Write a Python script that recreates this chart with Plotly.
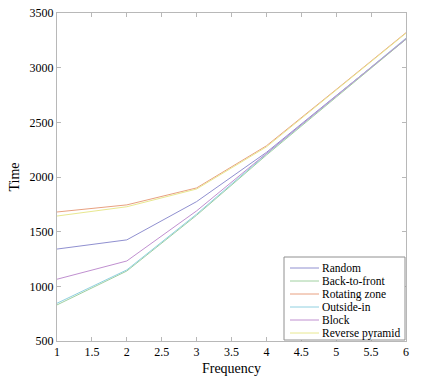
import plotly.graph_objects as go

frequency = [1, 2, 3, 4, 5, 6]
random_t = [1341, 1425, 1775, 2225, 2745, 3260]
back_to_front = [830, 1140, 1650, 2200, 2730, 3260]
rotating_zone = [1680, 1745, 1900, 2285, 2800, 3320]
outside_in = [845, 1150, 1660, 2210, 2740, 3270]
block = [1065, 1232, 1690, 2215, 2740, 3265]
reverse_pyramid = [1643, 1728, 1890, 2275, 2795, 3315]

series = [
    ("Random", random_t, "#9090d0"),
    ("Back-to-front", back_to_front, "#a0d0a0"),
    ("Rotating zone", rotating_zone, "#e8a080"),
    ("Outside-in", outside_in, "#90d0e0"),
    ("Block", block, "#c090d0"),
    ("Reverse pyramid", reverse_pyramid, "#e8e890"),
]

W, H = 429, 383
ML, MR, MT, MB = 57, 23, 13, 42
PW, PH = W - ML - MR, H - MT - MB
SERIF = "Liberation Serif, Times New Roman, serif"


def px(x):
    return (x - ML) / PW


def py(y):
    return (H - MB - y) / PH


fig = go.Figure()
for name, vals, color in series:
    fig.add_trace(go.Scatter(x=frequency, y=vals, mode="lines", name=name,
                             line=dict(color=color, width=1), showlegend=False))

# compact legend box (drawn with shapes + text annotations)
shapes = [dict(type="rect", xref="paper", yref="paper",
               x0=px(284), x1=px(405), y0=py(340), y1=py(257),
               line=dict(color="#909090", width=1), fillcolor="white", layer="above")]
annotations = []
for i, (name, vals, color) in enumerate(series):
    yy = 268 + i * 13
    shapes.append(dict(type="line", xref="paper", yref="paper",
                       x0=px(290), x1=px(319), y0=py(yy), y1=py(yy),
                       line=dict(color=color, width=1), layer="above"))
    annotations.append(dict(xref="paper", yref="paper", x=px(321), y=py(yy),
                            text=name, showarrow=False, xanchor="left", yanchor="middle",
                            borderpad=0,
                            font=dict(family=SERIF, size=11.5, color="black")))

axis_common = dict(showgrid=False, zeroline=False, showline=True, mirror="ticks",
                   linecolor="#b8b8b8", linewidth=1, ticks="inside", ticklen=4,
                   tickcolor="#b8b8b8", automargin=False,
                   tickfont=dict(family=SERIF, size=12, color="black"))

fig.update_layout(
    width=W, height=H,
    margin=dict(l=ML, r=MR, t=MT, b=MB),
    paper_bgcolor="white", plot_bgcolor="white",
    font=dict(family=SERIF, size=12, color="black"),
    xaxis=dict(range=[1, 6], dtick=0.5, title=dict(text="Frequency", standoff=4), **axis_common),
    yaxis=dict(range=[500, 3500], dtick=500, title=dict(text="Time", standoff=6), **axis_common),
    shapes=shapes,
    annotations=annotations,
    showlegend=False,
)

fig.write_html("out.html", config={"displayModeBar": False},
               post_script="document.body.style.margin='0';")
